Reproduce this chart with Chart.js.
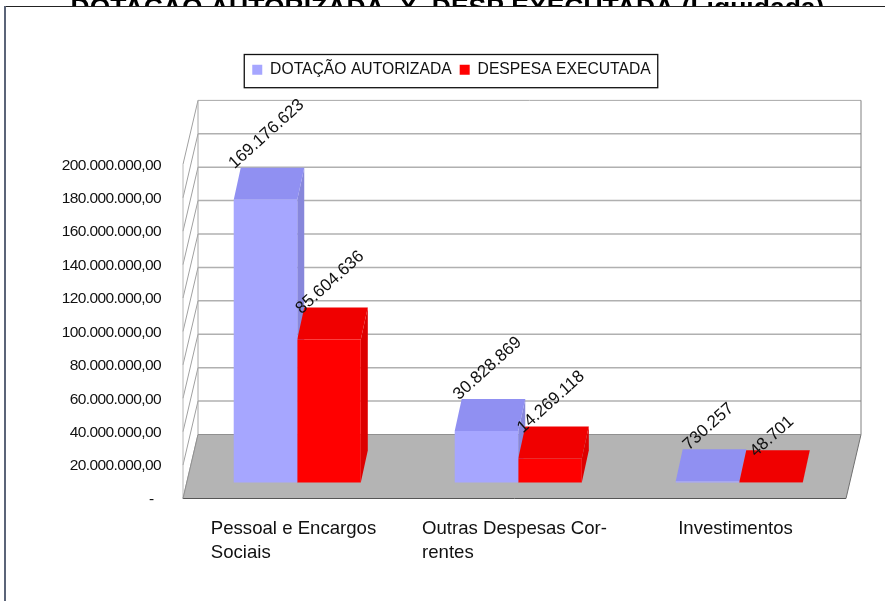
<!DOCTYPE html>
<html>
<head>
<meta charset="utf-8">
<title>Dotação x Despesa</title>
<script src="https://cdn.jsdelivr.net/npm/chart.js@4/dist/chart.umd.js"></script>
<style>
    html, body { margin: 0; padding: 0; background: #fff; overflow: hidden; }
    canvas { display: block; }
</style>
</head>
<body>
<canvas id="grafico" width="885" height="601"></canvas>
<script>
// =============================
// Data
// =============================
const categories = [
    ["Pessoal e Encargos", "Sociais"],
    ["Outras Despesas Cor-", "rentes"],
    ["Investimentos"],
];
const dotacaoValues = [169176623, 30828869, 730257];
const despesaValues = [85604636, 14269118, 48701];
const yTickValues = [0, 20000000, 40000000, 60000000, 80000000, 100000000, 120000000, 140000000, 160000000, 180000000, 200000000];
const yTickLabels = ["-  ", "20.000.000,00", "40.000.000,00", "60.000.000,00", "80.000.000,00", "100.000.000,00", "120.000.000,00", "140.000.000,00", "160.000.000,00", "180.000.000,00", "200.000.000,00"];
const valueLabelsDotacao = ["169.176.623", "30.828.869", "730.257"];
const valueLabelsDespesa = ["85.604.636", "14.269.118", "48.701"];

// depth of the fake 3D box
const WALL_DX = 15;
const WALL_DY = 64;
const BAR_DX = 7;
const BAR_DY = 32;
const FONT = '"Liberation Sans", Arial, sans-serif';

function poly(ctx, pts, fill) {
    ctx.beginPath();
    pts.forEach((p, i) => (i ? ctx.lineTo(p[0], p[1]) : ctx.moveTo(p[0], p[1])));
    ctx.closePath();
    ctx.fillStyle = fill;
    ctx.fill();
}

function line(ctx, x1, y1, x2, y2, color, width) {
    ctx.beginPath();
    ctx.moveTo(x1, y1);
    ctx.lineTo(x2, y2);
    ctx.strokeStyle = color;
    ctx.lineWidth = width;
    ctx.stroke();
}

// ============================================
// Box, side faces, labels and legend frame
// ============================================
const box3d = {
    id: "box3d",
    afterLayout(chart) {
        // the title sits a little left of the legend centre
        chart.titleBlock.left -= 4;
        chart.titleBlock.right -= 4;
    },
    beforeDatasetsDraw(chart) {
        const ctx = chart.ctx;
        const y = chart.scales.y;
        const xFront = chart.chartArea.left - 3.75;
        const xEnd = chart.chartArea.right - 3.75;
        const y0 = y.getPixelForValue(0);
        const yTop = y.getPixelForValue(200000000);

        // the chart frame hides the lower half of the title
        ctx.save();
        ctx.fillStyle = "#fff";
        ctx.fillRect(5, 6, 880, 40);
        line(ctx, 4, 6.5, 885, 6.5, "#222", 1);
        line(ctx, 5, 6, 5, 601, "#5b6478", 2);

        // side wall and back wall grid
        yTickValues.forEach((v) => {
            const py = y.getPixelForValue(v);
            line(ctx, xFront, py, xFront + WALL_DX, py - WALL_DY, "#a0a0a0", 1);
            if (v > 0) {
                line(ctx, xFront + WALL_DX, py - WALL_DY, xEnd + WALL_DX, py - WALL_DY, v === 200000000 ? "#a8a8a8" : "#b0b0b0", v === 200000000 ? 1 : 1.5);
            }
        });
        line(ctx, xFront, yTop, xFront, y0, "#b8b8b8", 1);
        line(ctx, xFront + WALL_DX, yTop - WALL_DY, xFront + WALL_DX, y0 - WALL_DY, "#a8a8a8", 1);
        line(ctx, xEnd + WALL_DX, yTop - WALL_DY, xEnd + WALL_DX, y0 - WALL_DY, "#808080", 1);

        // floor
        poly(ctx, [[xFront, y0], [xEnd, y0], [xEnd + WALL_DX, y0 - WALL_DY], [xFront + WALL_DX, y0 - WALL_DY]], "#b4b4b4");
        line(ctx, xFront, y0, xEnd, y0, "#555", 1);
        line(ctx, xEnd, y0, xEnd + WALL_DX, y0 - WALL_DY, "#707070", 1);
        line(ctx, xFront, y0, xFront + WALL_DX, y0 - WALL_DY, "#909090", 1);
        line(ctx, xFront + WALL_DX, y0 - WALL_DY, xEnd + WALL_DX, y0 - WALL_DY, "#909090", 1);

        // top and side faces of the bars
        const faces = [
            { top: "#9090f2", side: "#8787db" },
            { top: "#f00000", side: "#dd0000" },
        ];
        chart.data.datasets.forEach((ds, d) => {
            chart.getDatasetMeta(d).data.forEach((bar) => {
                const l = bar.x - bar.width / 2;
                const r = bar.x + bar.width / 2;
                poly(ctx, [[r, bar.y], [r, bar.base], [r + BAR_DX, bar.base - BAR_DY], [r + BAR_DX, bar.y - BAR_DY]], faces[d].side);
                poly(ctx, [[l, bar.y], [r, bar.y], [r + BAR_DX, bar.y - BAR_DY], [l + BAR_DX, bar.y - BAR_DY]], faces[d].top);
            });
        });

        // legend frame
        const hit = chart.legend.legendHitBoxes;
        const left = hit[0].left - 8;
        const right = hit[hit.length - 1].left + hit[hit.length - 1].width + 7;
        ctx.lineWidth = 1.3;
        ctx.strokeStyle = "#111";
        ctx.strokeRect(left, chart.legend.top + 0.5, right - left, chart.legend.height - 0.5);
        ctx.restore();
    },
    afterDatasetsDraw(chart) {
        const ctx = chart.ctx;
        const labels = [valueLabelsDotacao, valueLabelsDespesa];
        ctx.save();
        ctx.fillStyle = "#111";
        ctx.textBaseline = "middle";
        ctx.textAlign = "center";

        // values, tilted above the bars; the red ones sit lower
        ctx.font = "17px " + FONT;
        const angle = (42 * Math.PI) / 180;
        chart.data.datasets.forEach((ds, d) => {
            chart.getDatasetMeta(d).data.forEach((bar, i) => {
                const text = labels[d][i];
                const w = ctx.measureText(text).width;
                ctx.save();
                ctx.translate(bar.x + 1, bar.y - BAR_DY - (w / 2) * Math.sin(angle) - 2 + (d ? 5.5 : 0));
                ctx.rotate(-angle);
                ctx.fillText(text, 0, 0);
                ctx.restore();
            });
        });

        // category labels, left aligned as a block under each group
        ctx.font = "18.6px " + FONT;
        ctx.textAlign = "left";
        const x = chart.scales.x;
        categories.forEach((lines, i) => {
            const widest = Math.max(...lines.map((t) => ctx.measureText(t).width));
            const lx = x.getPixelForTick(i) - 3.75 - widest / 2;
            lines.forEach((t, n) => ctx.fillText(t, lx, 529 + n * 24));
        });
        ctx.restore();

        // the y ticks are the layer drawn next: tighter and a bit lower
        ctx.save();
        ctx.letterSpacing = "-0.6px";
        ctx.translate(0, 1);
    },
    afterDraw(chart) {
        chart.ctx.restore();
    },
};

// ============================================
// Chart
// ============================================
new Chart(document.getElementById("grafico"), {
    type: "bar",
    data: {
        labels: categories,
        datasets: [
            { label: "DOTAÇÃO AUTORIZADA", data: dotacaoValues, backgroundColor: "#a6a6ff", yAxisID: "yBars", borderWidth: 0 },
            { label: "DESPESA EXECUTADA", data: despesaValues, backgroundColor: "#ff0000", yAxisID: "yBars", borderWidth: 0 },
        ],
    },
    options: {
        responsive: false,
        animation: false,
        layout: { padding: { left: 18, right: 0, top: 0, bottom: 0 } },
        datasets: { bar: { categoryPercentage: 0.575, barPercentage: 1 } },
        plugins: {
            tooltip: { enabled: false },
            title: {
                display: true,
                text: "DOTAÇÃO AUTORIZADA  X  DESP EXECUTADA (Liquidada)",
                color: "#000",
                font: { family: FONT, size: 26.5, weight: "bold" },
                padding: { top: -7, bottom: 29.2 },
            },
            legend: {
                position: "top",
                labels: {
                    color: "#111",
                    boxWidth: 10,
                    boxHeight: 10,
                    padding: 8,
                    font: { family: FONT, size: 15.7 },
                },
            },
        },
        scales: {
            x: {
                grid: { display: false },
                border: { display: false },
                ticks: { display: false },
                afterFit(scale) { scale.height = 102.5; },
            },
            // tick axis: zero on the front edge of the floor
            y: {
                position: "left",
                min: 0,
                max: 245900000,
                grid: { display: false, drawTicks: false },
                border: { display: false },
                afterBuildTicks(scale) { scale.ticks = yTickValues.map((value) => ({ value })); },
                ticks: {
                    z: 1,
                    autoSkip: false,
                    padding: 25.75,
                    color: "#111",
                    font: { family: FONT, size: 15.5 },
                    callback: (value, i) => yTickLabels[i],
                },
                afterFit(scale) { scale.width = 168.75; },
            },
            // same pixels per unit, but the bars stand further back on the floor
            yBars: {
                position: "right",
                min: -9609610,
                max: 236290390,
                grid: { display: false, drawTicks: false },
                border: { display: false },
                ticks: { display: false },
                afterFit(scale) { scale.width = 35.25; },
            },
        },
    },
    plugins: [box3d],
});
</script>
</body>
</html>
